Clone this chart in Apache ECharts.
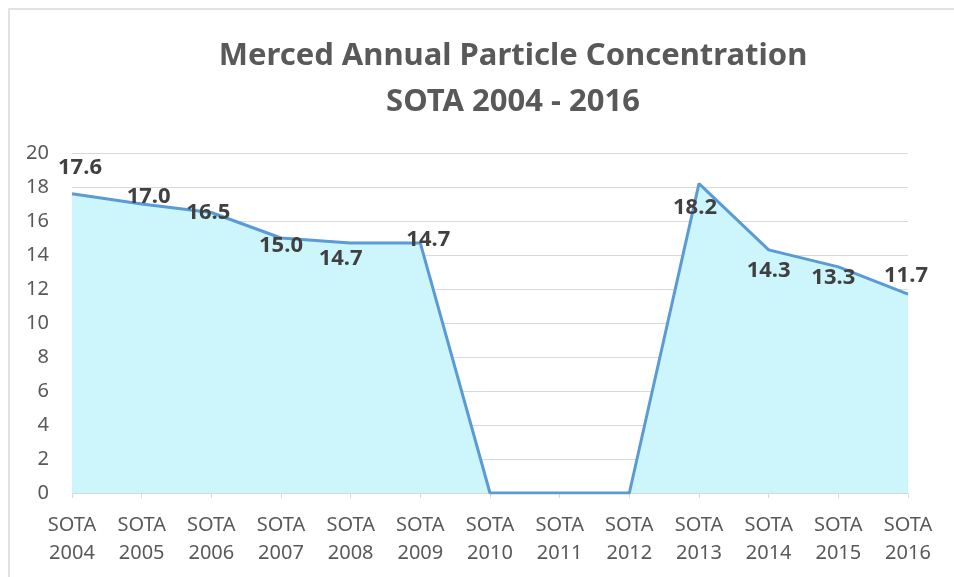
<!DOCTYPE html>
<html lang="en">
<head>
    <meta charset="UTF-8">
    <title>Merced Annual Particle Concentration</title>
    <script src="https://cdn.jsdelivr.net/npm/echarts@6/dist/echarts.min.js"></script>
    <style>
        body { margin: 0; background: #fff; }
        #main { width: 954px; height: 577px; }
    </style>
</head>
<body>
    <div id="main"></div>
    <script>
        var myChart = echarts.init(document.getElementById('main'));

        var years = ['2004', '2005', '2006', '2007', '2008', '2009', '2010',
            '2011', '2012', '2013', '2014', '2015', '2016'];
        var values = [17.6, 17.0, 16.5, 15.0, 14.7, 14.7, 0, 0, 0, 18.2, 14.3, 13.3, 11.7];
        var yTicks = [0, 2, 4, 6, 8, 10, 12, 14, 16, 18, 20];

        // label nudges, Excel put them all over the place
        var nudges = [[8, -26], [7, -7], [-3, 0], [0, 8], [-10, 16], [8, -3],
            [0, 0], [0, 0], [0, 0], [-4, 24], [0, 21], [-5, 11], [-2, -18]];

        var categories = years.map(function (y) { return 'SOTA\n' + y; });
        var seriesData = values.map(function (v, i) {
            return {
                value: v,
                label: { offset: nudges[i] }
            };
        });

        var font = '"Noto Sans", "Open Sans", sans-serif';

        var option = {
            backgroundColor: '#fff',
            animation: false,
            graphic: [{
                type: 'rect',
                shape: { x: 9, y: 9, width: 960, height: 600 },
                style: { fill: 'none', stroke: '#d9d9d9', lineWidth: 1.5 },
                silent: true
            }],
            title: {
                text: 'Merced Annual Particle Concentration\nSOTA 2004 - 2016',
                left: 508,
                textAlign: 'center',
                top: 28,
                textStyle: {
                    fontFamily: font,
                    fontSize: 31,
                    fontWeight: 'bold',
                    color: '#595959',
                    lineHeight: 46
                }
            },
            grid: {
                left: 72,
                right: 46,
                top: 153,
                bottom: 84,
                containLabel: false
            },
            xAxis: {
                type: 'category',
                boundaryGap: false,
                data: categories,
                axisLine: { lineStyle: { color: '#d9d9d9', width: 1 } },
                axisTick: { show: true, length: 5, lineStyle: { color: '#d9d9d9' } },
                axisLabel: {
                    color: '#595959',
                    fontFamily: font,
                    fontSize: 20,
                    lineHeight: 28,
                    margin: 18,
                    interval: 0
                }
            },
            yAxis: {
                type: 'value',
                min: yTicks[0],
                max: yTicks[yTicks.length - 1],
                interval: 2,
                axisLine: { show: false },
                axisTick: { show: false },
                splitLine: { lineStyle: { color: '#d9d9d9', width: 1 } },
                axisLabel: {
                    color: '#595959',
                    fontFamily: font,
                    fontSize: 20,
                    margin: 23
                }
            },
            series: [{
                type: 'line',
                data: seriesData,
                symbol: 'circle',
                symbolSize: 0,
                showSymbol: true,
                lineStyle: { color: '#5b9bd5', width: 3 },
                itemStyle: { color: '#5b9bd5' },
                areaStyle: { color: '#ccf6fc', opacity: 1 },
                label: {
                    show: true,
                    position: 'inside',
                    color: '#404040',
                    fontFamily: font,
                    fontSize: 22,
                    fontWeight: 'bold',
                    formatter: function (p) {
                        return p.value === 0 ? '' : p.value.toFixed(1);
                    }
                }
            }]
        };

        myChart.setOption(option);
    </script>
</body>
</html>
